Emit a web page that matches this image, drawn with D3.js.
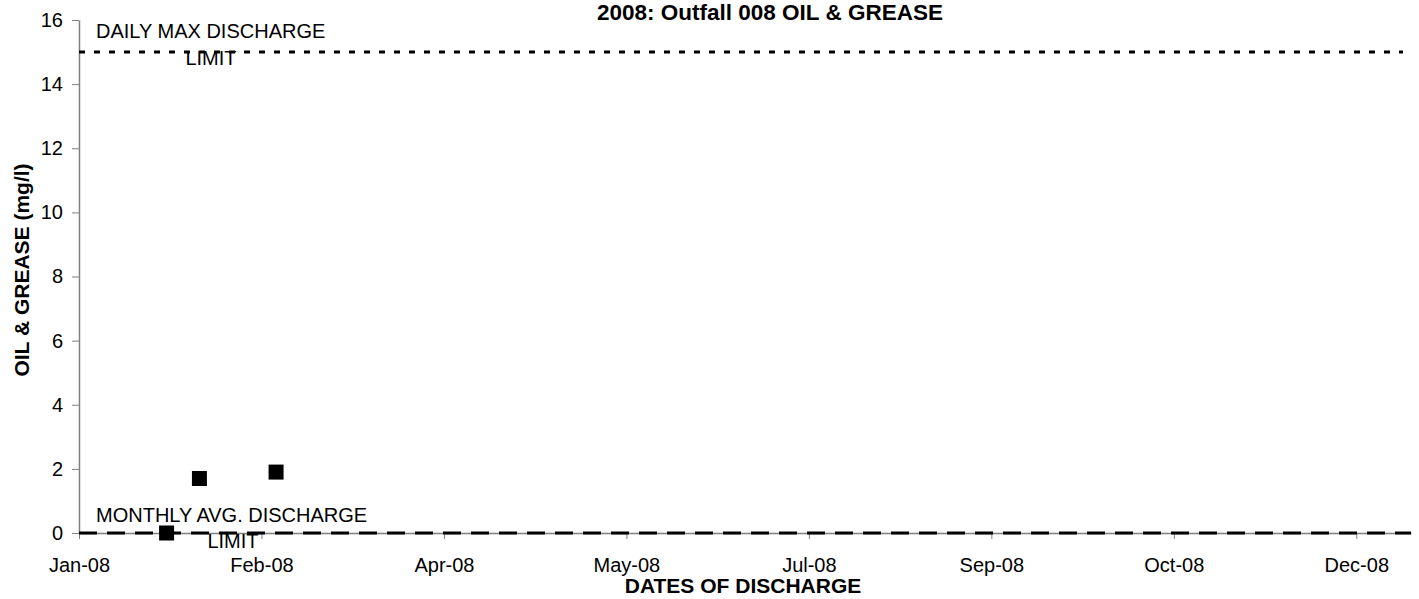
<!DOCTYPE html>
<html>
<head>
<meta charset="utf-8">
<script src="https://cdnjs.cloudflare.com/ajax/libs/d3/7.8.5/d3.min.js"></script>
<style>
  body { margin: 0; background: #fff; }
  text { font-family: "Liberation Sans", Arial, sans-serif; fill: #000; }
</style>
</head>
<body>
<script>
const width = 1419,
  height = 599;
const margin = { top: 20, right: 8, bottom: 66, left: 79 };
const innerWidth = width - margin.left - margin.right;
const innerHeight = height - margin.top - margin.bottom;

// data
const sampleDates = ["2008-01-25", "2008-02-03", "2008-02-24"];
const oilGrease = [0, 1.7, 1.9];
const dailyMaxLimit = 15;
const monthlyAvgLimit = 0;
const yTicks = [0, 2, 4, 6, 8, 10, 12, 14, 16];
const xTickLabels = ["Jan-08", "Feb-08", "Apr-08", "May-08", "Jul-08", "Sep-08", "Oct-08", "Dec-08"];

const parseDate = d3.timeParse("%Y-%m-%d");
const points = sampleDates.map((d, i) => ({ date: parseDate(d), value: oilGrease[i] }));

const startDate = parseDate("2008-01-01");
const endDate = parseDate("2008-12-31");
// Excel style date axis: a major tick every 50 days
const xTickDates = xTickLabels.map((d, i) => d3.timeDay.offset(startDate, i * 50));

const xScale = d3.scaleTime().domain([startDate, endDate]).range([0, innerWidth]);
const yScale = d3.scaleLinear().domain([0, 16]).range([innerHeight, 0]);

const svg = d3
  .select("body")
  .append("svg")
  .attr("width", width)
  .attr("height", height);

const mainG = svg
  .append("g")
  .attr("transform", `translate(${margin.left},${margin.top})`);

// axes
const xAxis = d3
  .axisBottom(xScale)
  .tickValues(xTickDates)
  .tickFormat((d, i) => xTickLabels[i])
  .tickSize(6)
  .tickSizeOuter(0)
  .tickPadding(19);

const yAxis = d3
  .axisLeft(yScale)
  .tickValues(yTicks)
  .tickSize(7)
  .tickSizeOuter(0)
  .tickPadding(9);

const gx = mainG
  .append("g")
  .attr("transform", `translate(0,${innerHeight})`)
  .call(xAxis);

const gy = mainG.append("g").call(yAxis);

[gx, gy].forEach(g => {
  g.select(".domain").attr("stroke", "#808080").attr("stroke-width", 1.5);
  g.selectAll(".tick line").attr("stroke", "#808080");
  g.selectAll(".tick text")
    .style("font-family", "'Liberation Sans', Arial, sans-serif")
    .style("font-size", "20px")
    .attr("fill", "#000");
});

// limit lines
mainG
  .append("line")
  .attr("x1", 0)
  .attr("x2", innerWidth - 8)
  .attr("y1", yScale(dailyMaxLimit))
  .attr("y2", yScale(dailyMaxLimit))
  .attr("stroke", "#000")
  .attr("stroke-width", 3)
  .attr("stroke-dasharray", "6,9");

mainG
  .append("line")
  .attr("x1", 0)
  .attr("x2", innerWidth)
  .attr("y1", yScale(monthlyAvgLimit))
  .attr("y2", yScale(monthlyAvgLimit))
  .attr("stroke", "#000")
  .attr("stroke-width", 3)
  .attr("stroke-dasharray", "18,10");

// limit labels
const labelG = mainG.append("g").style("font-size", "20px");

labelG
  .append("text")
  .attr("x", 17)
  .attr("y", yScale(dailyMaxLimit) - 14)
  .text("DAILY MAX DISCHARGE");
labelG
  .append("text")
  .attr("x", 132)
  .attr("y", yScale(dailyMaxLimit) + 13)
  .attr("text-anchor", "middle")
  .text("LIMIT");

labelG
  .append("text")
  .attr("x", 17)
  .attr("y", yScale(monthlyAvgLimit) - 11)
  .text("MONTHLY AVG. DISCHARGE");
labelG
  .append("text")
  .attr("x", 154)
  .attr("y", yScale(monthlyAvgLimit) + 15)
  .attr("text-anchor", "middle")
  .text("LIMIT");

// sample points
const size = 15;
mainG
  .selectAll("rect.pt")
  .data(points)
  .enter()
  .append("rect")
  .attr("class", "pt")
  .attr("x", d => xScale(d.date) - size / 2)
  .attr("y", d => yScale(d.value) - size / 2)
  .attr("width", size)
  .attr("height", size)
  .attr("fill", "#000");

// titles
svg
  .append("text")
  .attr("x", 770)
  .attr("y", 20)
  .attr("text-anchor", "middle")
  .style("font-size", "22.5px")
  .style("font-weight", "bold")
  .text("2008: Outfall 008 OIL & GREASE");

svg
  .append("text")
  .attr("x", 743)
  .attr("y", 593)
  .attr("text-anchor", "middle")
  .style("font-size", "21px")
  .style("font-weight", "bold")
  .text("DATES OF DISCHARGE");

svg
  .append("text")
  .attr("transform", "translate(29,270) rotate(-90)")
  .attr("text-anchor", "middle")
  .style("font-size", "21px")
  .style("font-weight", "bold")
  .text("OIL & GREASE (mg/l)");
</script>
</body>
</html>
